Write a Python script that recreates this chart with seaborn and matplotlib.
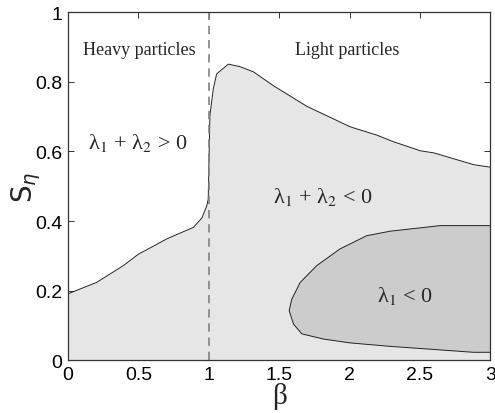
import numpy as np
import pandas as pd
import matplotlib
matplotlib.use("Agg")
import matplotlib.pyplot as plt
import seaborn as sns

# boundary of the region lambda1 + lambda2 < 0
beta_upper = [0.0, 0.204, 0.393, 0.5, 0.607, 0.702, 0.891, 0.951, 0.986, 0.996,
              1.008, 1.032, 1.056, 1.139, 1.22, 1.317, 1.459, 1.696, 2.004,
              2.194, 2.312, 2.504, 2.599, 2.883, 3.0]
s_upper = [0.191, 0.224, 0.272, 0.305, 0.328, 0.349, 0.382, 0.409, 0.444, 0.463,
           0.703, 0.78, 0.823, 0.851, 0.844, 0.829, 0.789, 0.730, 0.671,
           0.647, 0.628, 0.602, 0.596, 0.562, 0.555]

# closed boundary of the region lambda1 < 0
beta_inner = [3.0, 2.644, 2.289, 2.122, 1.932, 1.767, 1.65, 1.59, 1.571, 1.602,
              1.661, 1.815, 2.004, 2.289, 2.5, 2.88, 3.0]
s_inner = [0.387, 0.387, 0.371, 0.358, 0.320, 0.272, 0.224, 0.176, 0.143, 0.104,
           0.076, 0.061, 0.050, 0.040, 0.034, 0.023, 0.023]

x_ticks = [0, 0.5, 1, 1.5, 2, 2.5, 3]
x_ticklabels = ["0", "0.5", "1", "1.5", "2", "2.5", "3"]
y_ticks = [0, 0.2, 0.4, 0.6, 0.8, 1]
y_ticklabels = ["0", "0.2", "0.4", "0.6", "0.8", "1"]

sns.set_theme(style="ticks")
plt.rcParams["font.family"] = ["Liberation Sans", "DejaVu Sans"]
plt.rcParams["mathtext.fontset"] = "stix"

upper = pd.DataFrame({"beta": beta_upper, "s": s_upper})
inner = pd.DataFrame({"beta": beta_inner, "s": s_inner})

fig = plt.figure(figsize=(4.95, 4.14), dpi=100)
ax = fig.add_axes([0.1374, 0.1273, 0.8531, 0.8406])

ax.fill_between(upper["beta"], 0, upper["s"], color="#e6e6e6", lw=0, zorder=1)
ax.fill(inner["beta"], inner["s"], color="#cccccc", lw=0, zorder=2)
sns.lineplot(data=upper, x="beta", y="s", sort=False, estimator=None,
             color="#222222", lw=0.7, ax=ax, zorder=3)
sns.lineplot(data=inner, x="beta", y="s", sort=False, estimator=None,
             color="#222222", lw=0.7, ax=ax, zorder=3)
ax.axvline(1, color="#808080", ls=(0, (5, 3.5)), lw=1.2, zorder=4)

ax.set_xlim(0, 3)
ax.set_ylim(0, 1)
ax.set_xticks(x_ticks)
ax.set_xticklabels(x_ticklabels)
ax.set_yticks(y_ticks)
ax.set_yticklabels(y_ticklabels)
ax.tick_params(direction="in", length=4, width=0.7, top=True, right=True,
               labelsize=14, pad=4, colors="#333333", labelcolor="black")
for sp in ax.spines.values():
    sp.set_linewidth(0.9)
    sp.set_color("#333333")
    sp.set_zorder(5)

ax.set_xlabel("β", family="Liberation Serif", fontsize=21)
ax.xaxis.set_label_coords(0.5, -0.062)
ax.set_ylabel(r"$\mathrm{S}_\eta$", fontsize=20, math_fontfamily="dejavusans")
ax.yaxis.set_label_coords(-0.06, 0.5)

serif = dict(family="Liberation Serif", fontsize=13, ha="center", va="center")
ax.text(0.51, 0.894, "Heavy particles", **serif)
ax.text(1.98, 0.894, "Light particles", **serif)
lam = dict(family="Liberation Serif", fontsize=16, ha="center", va="center")
ax.text(0.494, 0.628, r"λ$_1$ + λ$_2$ > 0", **lam)
ax.text(1.81, 0.472, r"λ$_1$ + λ$_2$ < 0", **lam)
ax.text(2.39, 0.187, r"λ$_1$ < 0", **lam)

fig.savefig("out.png", dpi=100)
